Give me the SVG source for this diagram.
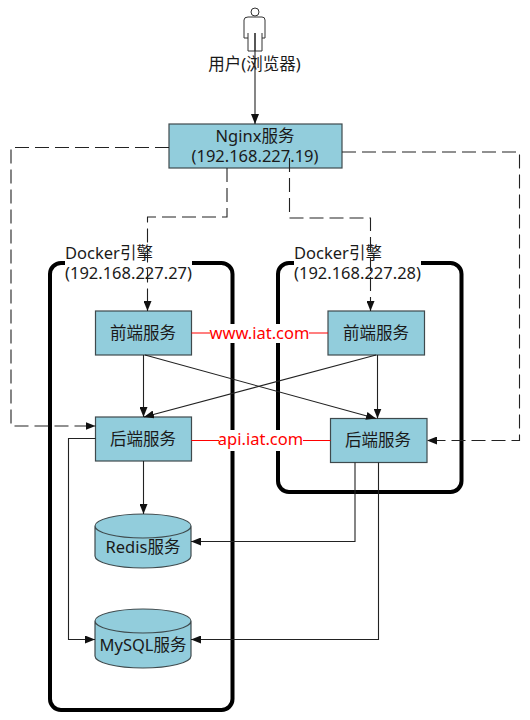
<svg xmlns="http://www.w3.org/2000/svg" width="530" height="720" viewBox="0 0 530 720">
<style>
text{font-family:"Noto Sans","Noto Sans CJK SC",sans-serif;font-size:16.5px;fill:#1a1a1a;text-anchor:middle;dominant-baseline:central}
.l{text-anchor:start}
.box{fill:#92cddc;stroke:#3f4a4d;stroke-width:1.2}
.frame{fill:none;stroke:#000;stroke-width:4}
.s{fill:none;stroke:#222;stroke-width:1.1}
.d{fill:none;stroke:#222;stroke-width:1.1;stroke-dasharray:14 6}
.r{fill:none;stroke:#ff0000;stroke-width:1.1}
.w{fill:#fff}
text.red{fill:#ff0000}
</style>
<defs>
<marker id="a" viewBox="0 0 10 8" refX="10" refY="4" markerWidth="10" markerHeight="8" markerUnits="userSpaceOnUse" orient="auto"><path d="M0 0L10 4L0 8Z" fill="#111"/></marker>
</defs>
<g id="docker-left">
<rect class="frame" x="50" y="263" width="182.500" height="447" rx="11"/>
<rect class="w" x="65" y="240" width="127" height="44"/>
<text class="l" x="65" y="252">Docker引擎<tspan x="65" dy="20">(192.168.227.27)</tspan></text>
</g>
<g id="docker-right">
<rect class="frame" x="278" y="263" width="183.500" height="229" rx="11"/>
<rect class="w" x="294" y="240" width="127" height="44"/>
<text class="l" x="294" y="252">Docker引擎<tspan x="294" dy="20">(192.168.227.28)</tspan></text>
</g>
<g id="user">
<circle cx="255" cy="12" r="4" fill="#fff" stroke="#333" stroke-width="1"/>
<path d="M248 17H262Q265 17 265 20V38H262V51H248V38H244V20Q244 17 248 17ZM248 33V38M262 33V38M255 33V51" fill="#fff" stroke="#333" stroke-width="1"/>
<text x="254.500" y="63.500">用户(浏览器)</text>
</g>
<g id="nginx">
<rect class="box" x="169" y="124" width="173" height="44"/>
<text x="255" y="135.500">Nginx服务<tspan x="255" dy="19">(192.168.227.19)</tspan></text>
</g>
<g id="front-left"><rect class="box" x="95.500" y="311" width="96" height="44"/><text x="143" y="332">前端服务</text></g>
<g id="front-right"><rect class="box" x="328" y="311" width="96.500" height="44"/><text x="376" y="332">前端服务</text></g>
<g id="back-left"><rect class="box" x="95.500" y="417" width="96" height="44"/><text x="143" y="438">后端服务</text></g>
<g id="back-right"><rect class="box" x="330.500" y="418.500" width="96.500" height="44"/><text x="378" y="439">后端服务</text></g>
<g id="redis">
<path class="box" d="M95 526V556A48 12 0 0 0 191 556V526A48 12 0 0 0 95 526ZM95 526A48 12 0 0 0 191 526"/>
<text x="143" y="546.500">Redis服务</text>
</g>
<g id="mysql">
<path class="box" d="M95 621V656A48 12 0 0 0 191 656V621A48 12 0 0 0 95 621ZM95 621A48 12 0 0 0 191 621"/>
<text x="143" y="644">MySQL服务</text>
</g>
<g id="connectors">
<path class="s" d="M255 33V124" marker-end="url(#a)"/>
<path class="d" d="M169 147.500H11V426H95.500" marker-end="url(#a)"/>
<path class="d" d="M342 152H519.500V440.500H427" marker-end="url(#a)"/>
<path class="d" d="M227 168V217H147.500V311" marker-end="url(#a)"/>
<path class="d" d="M289.500 158V218H370.500V311" marker-end="url(#a)"/>
<path class="s" d="M143.500 355V417" marker-end="url(#a)"/>
<path class="s" d="M377.500 355V418.500" marker-end="url(#a)"/>
<path class="s" d="M145 355L376 418.500" marker-end="url(#a)"/>
<path class="s" d="M376 355L144 417" marker-end="url(#a)"/>
<path class="s" d="M143.500 461V514" marker-end="url(#a)"/>
<path class="s" d="M95.500 438.500H68.500V639.500H95" marker-end="url(#a)"/>
<path class="s" d="M355 462.500V541.500H191" marker-end="url(#a)"/>
<path class="s" d="M378.500 462.500V639.500H191" marker-end="url(#a)"/>
<path class="r" d="M191.500 333H328"/>
<path class="r" d="M191.500 440.500H330.500"/>
<rect class="w" x="210" y="324" width="99" height="19"/>
<rect class="w" x="219" y="430" width="84" height="21"/>
<text class="red" x="259.500" y="332.500">www.iat.com</text>
<text class="red" x="260.500" y="438.500">api.iat.com</text>
</g>
</svg>
